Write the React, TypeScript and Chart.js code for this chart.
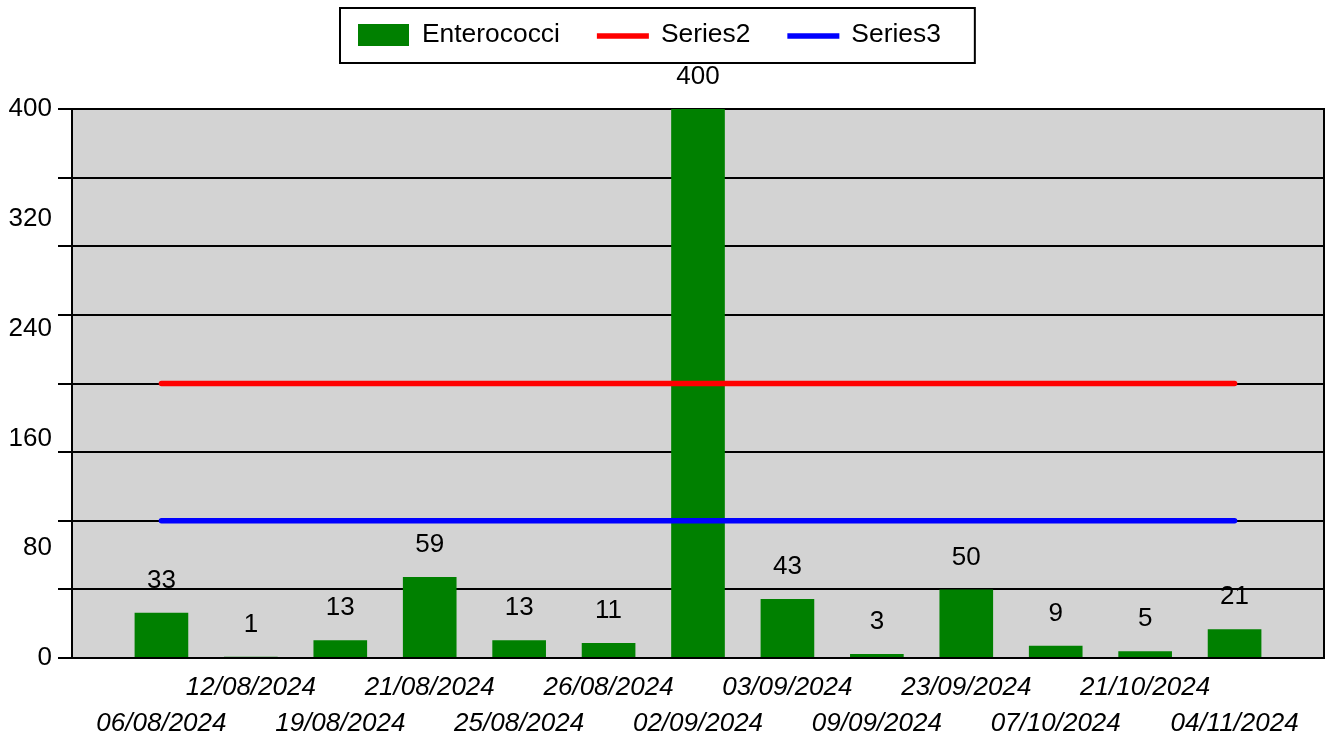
import React, { useEffect, useRef } from 'react';
import { Chart, registerables } from 'chart.js';

Chart.register(...registerables);

const CATEGORIES = [
  '06/08/2024', '12/08/2024', '19/08/2024', '21/08/2024', '25/08/2024', '26/08/2024',
  '02/09/2024', '03/09/2024', '09/09/2024', '23/09/2024', '07/10/2024', '21/10/2024', '04/11/2024',
];
const ENTEROCOCCI = [33, 1, 13, 59, 13, 11, 400, 43, 3, 50, 9, 5, 21];
const SERIES2 = [200, 200, 200, 200, 200, 200, 200, 200, 200, 200, 200, 200, 200];
const SERIES3 = [100, 100, 100, 100, 100, 100, 100, 100, 100, 100, 100, 100, 100];
const Y_GRID_TICKS = [0, 50, 100, 150, 200, 250, 300, 350, 400];
const Y_LABEL_TICKS = [0, 80, 160, 240, 320, 400];
const SERIES_NAMES = ['Enterococci', 'Series2', 'Series3'];
const SERIES_COLORS = ['#008000', '#ff0000', '#0000ff'];

const FONT = "'Liberation Sans', Arial, sans-serif";

const pad = (arr: number[]) => [null, ...arr, null];

const bgPlugin = {
  id: 'plotBg',
  beforeDraw(chart: any) {
    const { ctx, chartArea: a } = chart;
    ctx.save();
    ctx.fillStyle = '#d3d3d3';
    ctx.fillRect(a.left, a.top, a.right - a.left, a.bottom - a.top);
    ctx.restore();
  },
  afterDraw(chart: any) {
    const { ctx, chartArea: a } = chart;
    ctx.save();
    ctx.strokeStyle = '#000';
    ctx.lineWidth = 2;
    ctx.beginPath();
    ctx.moveTo(a.right, a.top - 1);
    ctx.lineTo(a.right, a.bottom + 1);
    ctx.stroke();
    ctx.restore();
  },
};

const dataLabelPlugin = {
  id: 'barLabels',
  afterDatasetsDraw(chart: any) {
    const { ctx } = chart;
    const meta = chart.getDatasetMeta(0);
    const data = chart.data.datasets[0].data;
    ctx.save();
    ctx.fillStyle = '#000';
    ctx.font = `26px ${FONT}`;
    ctx.textAlign = 'center';
    ctx.textBaseline = 'middle';
    meta.data.forEach((el: any, i: number) => {
      const v = data[i];
      if (v === null || v === undefined) return;
      ctx.fillText(String(v), el.x, el.y - 32);
    });
    ctx.restore();
  },
};

const legendPlugin = {
  id: 'boxLegend',
  afterDraw(chart: any) {
    const { ctx } = chart;
    ctx.save();
    ctx.font = `26.4px ${FONT}`;
    ctx.textBaseline = 'middle';
    ctx.textAlign = 'left';
    const cy = 35;
    let x = 358;
    SERIES_NAMES.forEach((name, i) => {
      if (i === 0) {
        ctx.fillStyle = SERIES_COLORS[i];
        ctx.fillRect(x, 24, 51, 22);
        x += 51 + 13;
      } else {
        ctx.strokeStyle = SERIES_COLORS[i];
        ctx.lineWidth = 5.5;
        ctx.beginPath();
        ctx.moveTo(x, cy + 1);
        ctx.lineTo(x + 52, cy + 1);
        ctx.stroke();
        x += 52 + 12;
      }
      ctx.fillStyle = '#000';
      ctx.fillText(name, x, cy);
      x += ctx.measureText(name).width;
      if (i < SERIES_NAMES.length - 1) x += 37;
    });
    ctx.strokeStyle = '#000';
    ctx.lineWidth = 2;
    ctx.strokeRect(340, 8, x + 34 - 340, 55);
    ctx.restore();
  },
};

export default function App() {
  const ref = useRef<HTMLCanvasElement>(null);

  useEffect(() => {
    if (!ref.current) return;
    const labels: any[] = [
      '',
      ...CATEGORIES.map((c, i) => (i % 2 === 0 ? ['', c] : [c, ''])),
      '',
    ];
    const ALL_Y_TICKS = Array.from(new Set([...Y_GRID_TICKS, ...Y_LABEL_TICKS])).sort((a, b) => a - b);

    const chart = new Chart(ref.current, {
      type: 'bar',
      data: {
        labels,
        datasets: [
          {
            type: 'bar',
            label: SERIES_NAMES[0],
            data: pad(ENTEROCOCCI) as any,
            backgroundColor: SERIES_COLORS[0],
            barPercentage: 0.6,
            categoryPercentage: 1,
            order: 3,
          } as any,
          {
            type: 'line',
            label: SERIES_NAMES[1],
            data: pad(SERIES2) as any,
            borderColor: SERIES_COLORS[1],
            backgroundColor: SERIES_COLORS[1],
            borderWidth: 5.5,
            borderCapStyle: 'round',
            pointRadius: 0,
            fill: false,
            order: 1,
          } as any,
          {
            type: 'line',
            label: SERIES_NAMES[2],
            data: pad(SERIES3) as any,
            borderColor: SERIES_COLORS[2],
            backgroundColor: SERIES_COLORS[2],
            borderWidth: 5.5,
            borderCapStyle: 'round',
            pointRadius: 0,
            fill: false,
            order: 2,
          } as any,
        ],
      },
      options: {
        responsive: false,
        maintainAspectRatio: false,
        animation: false,
        layout: { padding: { top: 109, right: 6, bottom: 0, left: 0 } },
        plugins: {
          legend: { display: false },
          tooltip: { enabled: false },
          title: { display: false },
        },
        scales: {
          x: {
            type: 'category',
            offset: false,
            grid: { display: false, drawTicks: false },
            border: { display: false },
            ticks: {
              autoSkip: false,
              maxRotation: 0,
              minRotation: 0,
              padding: 12,
              color: '#000',
              font: { family: FONT, size: 26, style: 'italic', lineHeight: 36 / 26 },
            },
            afterFit: (s: any) => {
              s.height = 79;
              s.paddingLeft = 0;
              s.paddingRight = 0;
            },
          },
          y: {
            min: 0,
            max: 400,
            afterBuildTicks: (s: any) => {
              s.ticks = ALL_Y_TICKS.map((v) => ({ value: v }));
            },
            grid: {
              color: (c: any) =>
                c.tick && Y_GRID_TICKS.includes(c.tick.value) ? '#000' : 'rgba(0,0,0,0)',
              lineWidth: 2,
              drawTicks: true,
              tickLength: 14,
            },
            border: { display: true, color: '#000', width: 2 },
            ticks: {
              autoSkip: false,
              padding: 6,
              color: '#000',
              font: { family: FONT, size: 26 },
              callback: (v: any) => (Y_LABEL_TICKS.includes(Number(v)) ? String(v) : ''),
            },
            afterFit: (s: any) => {
              s.width = 72;
            },
          },
        },
      } as any,
      plugins: [bgPlugin, dataLabelPlugin, legendPlugin],
    });
    return () => chart.destroy();
  }, []);

  return (
    <div style={{ position: 'fixed', left: 0, top: 0, width: 1330, height: 737, background: '#fff' }}>
      <canvas ref={ref} width={1330} height={737} style={{ display: 'block', width: 1330, height: 737 }} />
    </div>
  );
}
